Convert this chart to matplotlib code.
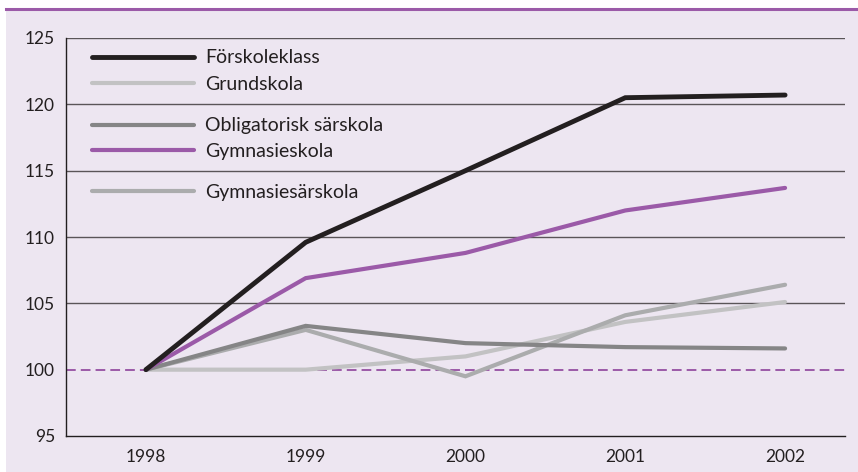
import matplotlib
matplotlib.use("Agg")
import matplotlib.pyplot as plt
from matplotlib.patches import Rectangle
from matplotlib.lines import Line2D
from matplotlib.legend import Legend

plt.rcParams['font.family'] = ['Lato', 'DejaVu Sans']

years = [1998, 1999, 2000, 2001, 2002]
forskoleklass = [100, 109.6, 115.0, 120.5, 120.7]
grundskola = [100, 100.0, 101.0, 103.6, 105.1]
obligatorisk = [100, 103.3, 102.0, 101.7, 101.6]
gymnasieskola = [100, 106.9, 108.8, 112.0, 113.7]
gymnasiesarskola = [100, 103.0, 99.5, 104.1, 106.4]
yticks = [95, 100, 105, 110, 115, 120, 125]

purple = '#9b5aa8'
bg = '#ede6f1'

fig = plt.figure(figsize=(8.58, 4.72), dpi=100)
W, H = 858, 472
fig.patches.append(Rectangle((6 / W, 0), 1 - 6 / W, (H - 10) / H,
                             transform=fig.transFigure, facecolor=bg,
                             edgecolor='none', zorder=-10))
fig.lines.append(Line2D([6 / W, 1], [(H - 8.5) / H] * 2, transform=fig.transFigure,
                        color=purple, lw=2.2, zorder=-5))

ax = fig.add_axes([66 / W, (H - 436) / H, (845 - 66) / W, (436 - 38) / H])
ax.set_facecolor('none')
ax.set_zorder(2)

ax.set_xlim(1997.5, 2002.375)
ax.set_ylim(95, 125)
ax.set_yticks(yticks)
ax.set_xticks(years)
ax.tick_params(length=0, labelsize=12.5, colors='#231f20')
ax.tick_params(axis='y', pad=8)
ax.tick_params(axis='x', pad=9)

for v in yticks[2:]:
    ax.axhline(v, color='#5a5558', lw=1.0, zorder=1)
ax.axhline(100, color=purple, lw=1.4, ls=(0, (5, 2.6)), zorder=1)

for s in ['top', 'right']:
    ax.spines[s].set_visible(False)
for s in ['left', 'bottom']:
    ax.spines[s].set_color('#231f20')
    ax.spines[s].set_linewidth(1.0)

series = [
    ('Förskoleklass', forskoleklass, '#231f20', 3.5, 0.950),
    ('Grundskola', grundskola, '#c2c2c3', 3.0, 0.884),
    ('Obligatorisk särskola', obligatorisk, '#858586', 3.0, 0.779),
    ('Gymnasieskola', gymnasieskola, purple, 3.0, 0.716),
    ('Gymnasiesärskola', gymnasiesarskola, '#abacad', 3.0, 0.613),
]

# draw order: lighter lines first, black on top
order = [1, 4, 2, 3, 0]
handles = {}
for i in order:
    name, vals, col, lw, _ = series[i]
    ln, = ax.plot(years, vals, color=col, lw=lw, solid_capstyle='round',
                  solid_joinstyle='miter', zorder=3 + order.index(i))
    handles[i] = ln

for i, (name, vals, col, lw, ypos) in enumerate(series):
    leg = Legend(ax, [handles[i]], [name], loc='center left',
                 bbox_to_anchor=(0.033, ypos), frameon=False,
                 borderpad=0, borderaxespad=0, handlelength=5.25,
                 handletextpad=0.6, fontsize=14)
    for t in leg.get_texts():
        t.set_color('#231f20')
    ax.add_artist(leg)

fig.savefig('out.png', dpi=100)
